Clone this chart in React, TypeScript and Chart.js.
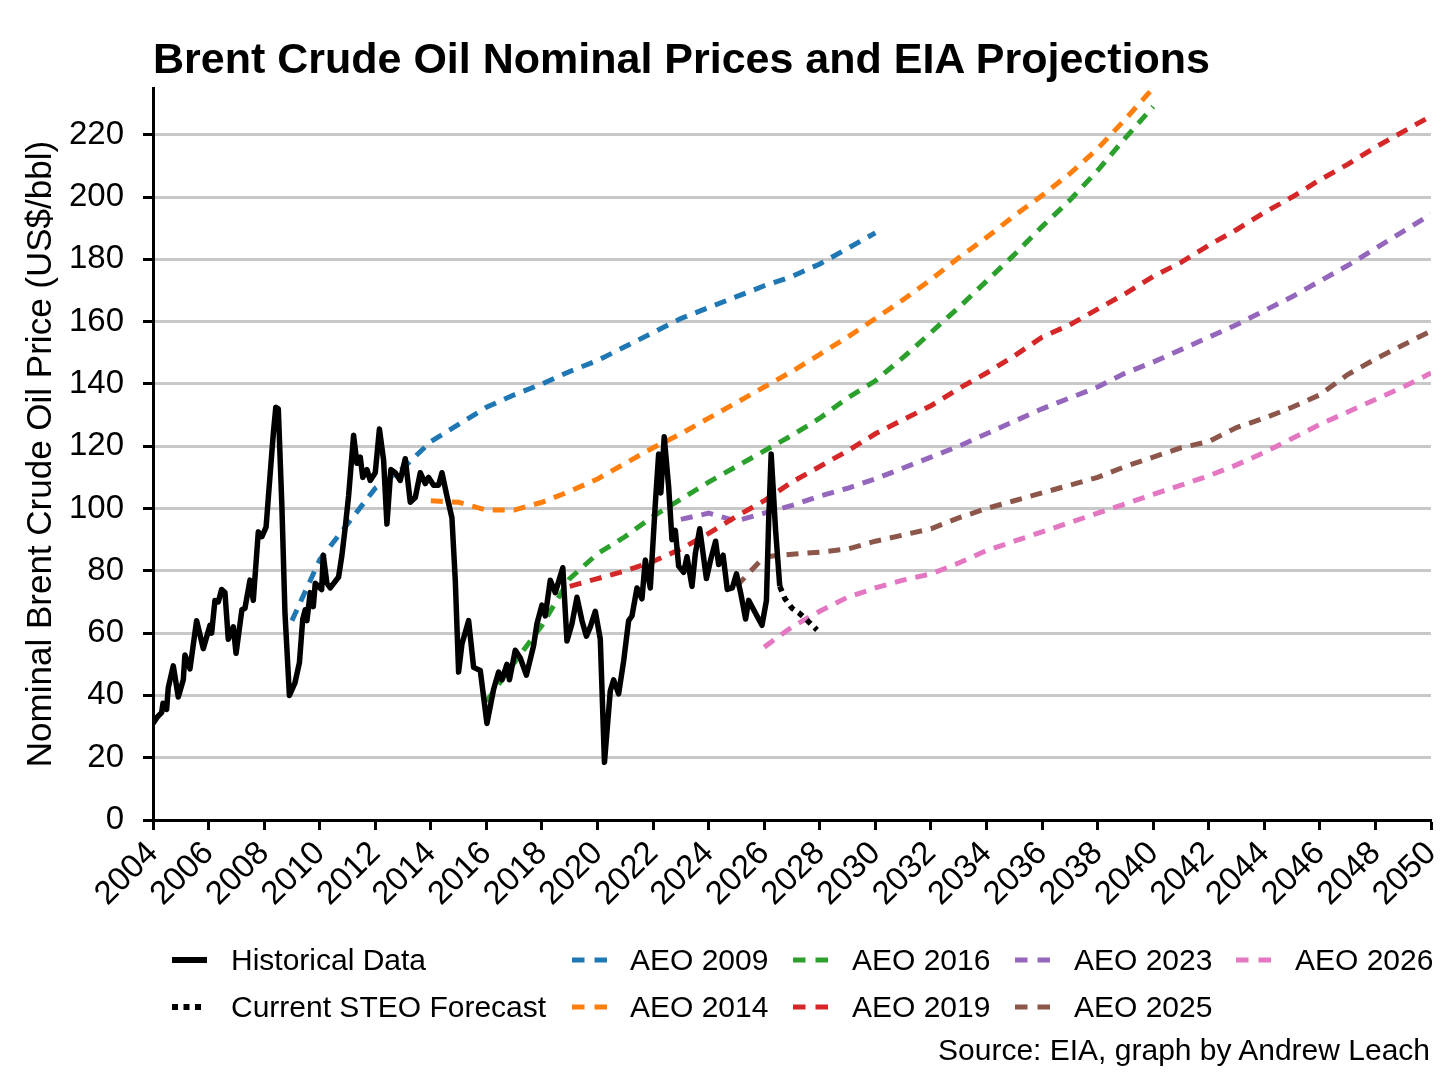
import React, { useEffect, useRef } from 'react';
import Chart from 'chart.js/auto';

const FONT = '"Liberation Sans", Arial, Helvetica, sans-serif';

// Brent monthly prices (decimal year, US$/bbl)
const histYears = [
  2004.0, 2004.15, 2004.31, 2004.36, 2004.49, 2004.55, 2004.73, 2004.91, 2005.09, 2005.15,
  2005.33, 2005.57, 2005.81, 2006.05, 2006.11, 2006.23, 2006.35, 2006.47, 2006.59, 2006.71,
  2006.89, 2006.99, 2007.2, 2007.31, 2007.49, 2007.61, 2007.79, 2007.92, 2008.07, 2008.19,
  2008.33, 2008.42, 2008.51, 2008.64, 2008.75, 2008.91, 2009.11, 2009.27, 2009.39, 2009.48,
  2009.54, 2009.66, 2009.77, 2009.84, 2010.07, 2010.13, 2010.26, 2010.38, 2010.68, 2010.8,
  2010.92, 2011.04, 2011.22, 2011.34, 2011.46, 2011.55, 2011.7, 2011.82, 2012.0, 2012.15,
  2012.3, 2012.42, 2012.56, 2012.72, 2012.9, 2013.08, 2013.26, 2013.44, 2013.62, 2013.8,
  2013.92, 2014.1, 2014.28, 2014.4, 2014.58, 2014.76, 2014.88, 2015.0, 2015.12, 2015.36,
  2015.54, 2015.78, 2016.02, 2016.26, 2016.44, 2016.56, 2016.74, 2016.83, 2017.04, 2017.22,
  2017.44, 2017.7, 2017.82, 2018.0, 2018.12, 2018.3, 2018.48, 2018.75, 2018.9, 2019.08,
  2019.26, 2019.44, 2019.6, 2019.74, 2019.92, 2020.1, 2020.25, 2020.46, 2020.58, 2020.76,
  2020.94, 2021.12, 2021.24, 2021.42, 2021.6, 2021.72, 2021.9, 2022.08, 2022.2, 2022.28,
  2022.4, 2022.56, 2022.68, 2022.8, 2022.92, 2023.1, 2023.22, 2023.4, 2023.52, 2023.68,
  2023.92, 2024.07, 2024.25, 2024.36, 2024.52, 2024.67, 2024.85, 2025.0, 2025.15, 2025.33,
  2025.44, 2025.62, 2025.74, 2025.92, 2026.08, 2026.16, 2026.25, 2026.41, 2026.56,
];
const histPrices = [
  31, 33, 34.5, 37.5, 35.5, 42.5, 49.5, 39.5, 45, 53,
  48.5, 64, 55, 62.5, 60, 70.5, 70, 74, 73, 58,
  62, 53.5, 67.5, 68, 77, 70.5, 92.5, 91, 94, 108,
  124, 132.5, 132, 100.5, 66.5, 40, 44, 50.5, 64.5, 67.5,
  64, 73, 68.5, 76, 74, 85, 76, 74.5, 78, 85,
  94, 104, 123.5, 114.5, 116.5, 110, 112.5, 109, 111.5, 125.5,
  115.5, 95, 112.5, 111.5, 109, 116, 102, 103.5, 111.5, 108,
  110, 107.5, 107.5, 111.5, 104, 97, 77, 47.5, 56.5, 64,
  49, 48, 31, 42, 47.5, 45, 50, 45, 54.5, 52,
  46.5, 56, 63, 69, 65.5, 77, 73, 81, 57.5, 63,
  71.5, 64, 59, 62, 67, 58, 18.5, 41.5, 45, 40.5,
  51, 64, 65.5, 74.5, 71, 83.5, 74.5, 101.5, 117.5, 105,
  123, 107, 90, 93, 81.5, 79.5, 84.5, 75, 85.5, 93.5,
  77.5, 83.5, 89.5, 82, 85, 74, 74.5, 79, 73, 64.5,
  70.5, 67.5, 65.5, 62.5, 70.5, 96, 117.5, 93, 75,
];

// current STEO forecast
const steoYears = [2026.56, 2026.75, 2027.0, 2027.25, 2027.5, 2027.9];
const steoPrices = [75, 71, 68, 66.5, 64.5, 61];

// AEO reference-case projections, one value per year from the first year
const aeo2009 = [
  64, 83.5, 95, 106.5, 113, 121.5, 127, 132.5, 136.5, 140, 144, 147.5, 152, 156.5, 161,
  164.5, 168, 171.5, 174.5, 178.5, 183.5, 188.5,
];
const aeo2014 = [
  102.5, 102, 99.5, 99.5, 102, 105.5, 109.5, 114.5, 119.5, 124, 129, 134, 139, 144,
  149.5, 155, 161, 167, 173.5, 180.5, 187, 194, 200.5, 207.5, 215.5, 225, 235,
];
const aeo2016 = [
  38, 50.5, 62.5, 77.5, 85.5, 91, 97.5, 103, 108.5, 113.5, 118.5, 123.5, 129, 135.5,
  141, 148.5, 156.5, 164.5, 173, 181.5, 190.5, 199, 208.5, 219, 229,
];
const aeo2019 = [
  75, 77.5, 80, 83, 87, 92, 97.5, 102.5, 108.5, 113.5, 118.5, 124, 128.5, 133, 138.5,
  143.5, 149, 155, 159, 164, 169, 174.5, 179, 184.5, 189.5, 195, 200, 205.5, 210.5, 216,
  221, 226,
];
const aeo2023 = [
  96.5, 98.5, 96, 98.5, 101, 104, 106.5, 109.5, 113, 116.5, 120, 124, 128, 132, 135.5,
  139, 143.5, 147, 151, 155, 159, 163.5, 168, 173, 178, 183.5, 189, 194.5,
];
const aeo2025 = [
  75, 84.5, 85.3, 86, 87, 89.5, 91.5, 93.5, 97, 100, 102.5, 105, 107.5, 110, 113.5,
  116.5, 119.5, 121.5, 126, 129, 132.5, 136.5, 143, 148, 152.5, 157,
];
const aeo2026 = [
  55.5, 62, 67, 71.5, 74.5, 77, 79, 82.5, 86.5, 89.5, 92.5, 95.5, 98.5, 101.5, 104.5,
  107.5, 110.5, 114, 118, 122.5, 127, 131, 135, 139, 143.5,
];

const xTicks = [
  2004, 2006, 2008, 2010, 2012, 2014, 2016, 2018, 2020, 2022, 2024, 2026,
  2028, 2030, 2032, 2034, 2036, 2038, 2040, 2042, 2044, 2046, 2048, 2050,
];
const yTicks = [0, 20, 40, 60, 80, 100, 120, 140, 160, 180, 200, 220];

const projections = [
  { label: 'AEO 2009', start: 2009, values: aeo2009, color: '#1f77b4' },
  { label: 'AEO 2014', start: 2014, values: aeo2014, color: '#ff7f0e' },
  { label: 'AEO 2016', start: 2016, values: aeo2016, color: '#2ca02c' },
  { label: 'AEO 2019', start: 2019, values: aeo2019, color: '#d62728' },
  { label: 'AEO 2023', start: 2023, values: aeo2023, color: '#9467bd' },
  { label: 'AEO 2025', start: 2025, values: aeo2025, color: '#8c564b' },
  { label: 'AEO 2026', start: 2026, values: aeo2026, color: '#e377c2' },
];

const pairs = (xs: number[], ys: number[]) => xs.map((x, i) => ({ x, y: ys[i] }));
const yearly = (start: number, ys: number[]) => ys.map((y, i) => ({ x: start + i, y }));

// legend grid: [column, row] per entry
const legendCols = [
  { sample: 172, text: 231 },
  { sample: 572, text: 630 },
  { sample: 793, text: 852 },
  { sample: 1015, text: 1074 },
  { sample: 1236, text: 1295 },
];
const legendRows = [960, 1007];

type LegendItem = { label: string; color: string; kind: 'solid' | 'dot' | 'dash'; col: number; row: number };

const legendItems: LegendItem[] = [
  { label: 'Historical Data', color: '#000', kind: 'solid', col: 0, row: 0 },
  { label: 'Current STEO Forecast', color: '#000', kind: 'dot', col: 0, row: 1 },
  ...projections.map((p, i) => ({
    label: p.label,
    color: p.color,
    kind: 'dash' as const,
    col: 1 + Math.floor(i / 2),
    row: i % 2,
  })),
];

const Sample: React.FC<{ item: LegendItem }> = ({ item }) => {
  const left = legendCols[item.col].sample;
  const top = legendRows[item.row] - 5;
  let line: React.ReactNode;
  if (item.kind === 'solid') {
    line = <line x1={0} y1={5} x2={35} y2={5} stroke={item.color} strokeWidth={6} />;
  } else if (item.kind === 'dot') {
    line = <line x1={0} y1={5} x2={29} y2={5} stroke={item.color} strokeWidth={6} strokeDasharray="6 5.5" />;
  } else {
    line = <line x1={0} y1={5} x2={35} y2={5} stroke={item.color} strokeWidth={5} strokeDasharray="12.5 10" />;
  }
  return (
    <svg width={36} height={10} style={{ position: 'absolute', left, top }}>
      {line}
    </svg>
  );
};

const BrentChart: React.FC = () => {
  const canvasRef = useRef<HTMLCanvasElement>(null);
  const chartRef = useRef<Chart | null>(null);

  useEffect(() => {
    document.body.style.margin = '0';
    if (!canvasRef.current) return;
    if (chartRef.current) chartRef.current.destroy();

    const datasets: any[] = [
      {
        label: 'Historical Data',
        data: pairs(histYears, histPrices),
        borderColor: '#000',
        borderWidth: 5.5,
        borderJoinStyle: 'round',
      },
      {
        label: 'Current STEO Forecast',
        data: pairs(steoYears, steoPrices),
        borderColor: '#000',
        borderWidth: 5.5,
        borderDash: [5.5, 5.5],
      },
      ...projections.map((p) => ({
        label: p.label,
        data: yearly(p.start, p.values),
        borderColor: p.color,
        borderWidth: 5,
        borderDash: [12, 9],
      })),
    ];

    chartRef.current = new Chart(canvasRef.current, {
      type: 'line',
      data: { datasets },
      options: {
        animation: false,
        responsive: false,
        layout: { padding: { top: 88, right: 25, left: 0, bottom: 0 } },
        elements: { point: { radius: 0 }, line: { tension: 0, fill: false } },
        plugins: {
          legend: { display: false },
          tooltip: { enabled: false },
        },
        scales: {
          x: {
            type: 'linear',
            min: 2004,
            max: 2050,
            afterBuildTicks: (s: any) => {
              s.ticks = xTicks.map((value) => ({ value }));
            },
            afterFit: (s: any) => {
              s.height = 272;
              s.paddingRight = 0;
            },
            ticks: {
              autoSkip: false,
              minRotation: 45,
              maxRotation: 45,
              padding: 4,
              color: '#000',
              font: { family: FONT, size: 33 },
              callback: (v: any) => String(v),
            },
            grid: {
              drawOnChartArea: false,
              tickLength: 10,
              tickWidth: 3,
              tickColor: '#000',
            },
            border: { color: '#000', width: 3 },
          },
          y: {
            type: 'linear',
            min: 0,
            max: 235,
            afterBuildTicks: (s: any) => {
              s.ticks = yTicks.map((value) => ({ value }));
            },
            afterFit: (s: any) => {
              s.width = 153;
            },
            ticks: {
              padding: 19,
              color: '#000',
              font: { family: FONT, size: 33 },
              callback: (v: any) => String(v),
            },
            grid: {
              color: (ctx: any) => (ctx.tick && ctx.tick.value === 0 ? 'rgba(0,0,0,0)' : '#c8c8c8'),
              lineWidth: 3,
              tickLength: 10,
              tickWidth: 3,
              tickColor: '#000',
            },
            border: { color: '#000', width: 3 },
            title: {
              display: true,
              text: 'Nominal Brent Crude Oil Price (US$/bbl)',
              color: '#000',
              font: { family: FONT, size: 35 },
              padding: { top: 20, bottom: 0 },
            },
          },
        },
      },
    });

    return () => {
      if (chartRef.current) {
        chartRef.current.destroy();
        chartRef.current = null;
      }
    };
  }, []);

  return (
    <div style={{ position: 'relative', width: 1456, height: 1092, background: '#fff', fontFamily: FONT, color: '#000' }}>
      <canvas ref={canvasRef} width={1456} height={1092} style={{ position: 'absolute', left: 0, top: 0 }} />
      <div
        style={{
          position: 'absolute',
          left: 153,
          top: 37,
          fontSize: 43,
          lineHeight: '43px',
          fontWeight: 'bold',
          whiteSpace: 'nowrap',
        }}
      >
        Brent Crude Oil Nominal Prices and EIA Projections
      </div>
      {legendItems.map((item) => (
        <React.Fragment key={item.label}>
          <Sample item={item} />
          <div
            style={{
              position: 'absolute',
              left: legendCols[item.col].text,
              top: legendRows[item.row] - 15,
              fontSize: 30,
              lineHeight: '30px',
              whiteSpace: 'nowrap',
            }}
          >
            {item.label}
          </div>
        </React.Fragment>
      ))}
      <div
        style={{
          position: 'absolute',
          right: 26,
          top: 1035,
          fontSize: 30,
          lineHeight: '30px',
          whiteSpace: 'nowrap',
        }}
      >
        Source: EIA, graph by Andrew Leach
      </div>
    </div>
  );
};

export default function App() {
  return <BrentChart />;
}
